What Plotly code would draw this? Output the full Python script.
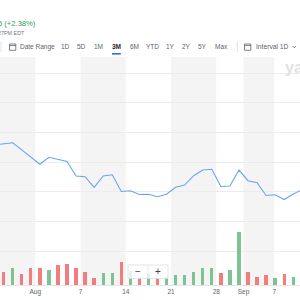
import plotly.graph_objects as go

# ---------------- data ----------------
# trading-day slots (index -1 and 33 lie just outside the visible window)
day_index = list(range(-1, 34))
close = [41.790, 41.806, 41.828, 41.707, 41.585, 41.464, 41.582, 41.548, 41.511,
         41.266, 41.254, 41.075, 41.266, 41.286, 41.004, 41.018, 40.954, 40.957,
         40.917, 40.959, 41.075, 41.114, 41.271, 41.367, 41.379, 41.089, 41.097,
         41.367, 41.187, 41.153, 40.937, 40.950, 40.869, 40.962, 41.036]

vol_index = list(range(0, 33))
volume = [1.35, 1.70, 1.13, 1.67, 1.67, 1.50, 2.00, 2.10, 1.70, 1.30, 0.72,
          1.17, 1.17, 2.30, 1.42, 0.72, 1.07, 0.75, 0.85, 1.05, 1.00, 1.35,
          1.67, 1.67, 1.18, 1.50, 5.27, 1.27, 0.80, 0.97, 0.72, 1.15, 0.77]
vol_up = [0, 1, 0, 0, 0, 1, 0, 0, 0, 0, 0, 1, 1, 0, 1, 0, 1, 0, 1, 1, 1, 1,
          1, 1, 0, 1, 1, 0, 0, 0, 1, 0, 1]

tick_pos = [3.5, 8.5, 13.5, 18.5, 23.5, 26.5, 29.9]
tick_text = ["Aug", "7", "14", "21", "28", "Sep", "7"]
grid_levels = [40.0, 40.5, 41.0, 41.5, 42.0, 42.5, 43.0]

range_labels = ["Date Range", "1D", "5D", "1M", "3M", "6M", "YTD", "1Y", "2Y", "5Y", "Max"]
selected_range = "3M"
interval_label = "Interval 1D"
change_text = "5 (+2.38%)"
time_text = "27PM EDT"

# ---------------- styling ----------------
W, H = 300, 300
BOTTOM = 15
PAPER_H = H - BOTTOM  # paper spans pixel rows 0..285
GREEN = "#7cc593"
RED = "#f27d7d"
FONT = "Liberation Sans"


def px(xp):
    return xp / W


def py(yp):
    return (PAPER_H - yp) / PAPER_H


fig = go.Figure()
fig.add_trace(go.Bar(
    x=vol_index, y=volume, width=0.37, yaxis="y2",
    marker=dict(color=[GREEN if u else RED for u in vol_up], line=dict(width=0)),
    hoverinfo="skip"))
fig.add_trace(go.Scatter(
    x=day_index, y=close, mode="lines", yaxis="y",
    line=dict(color="#6aa3f5", width=1.1), hoverinfo="skip"))

shapes = []
# alternating weekly bands
band_edges = [(-2, tick_pos[0]), (tick_pos[1], tick_pos[2]),
              (tick_pos[3], tick_pos[4]), (tick_pos[5], tick_pos[6])]
for a, b in band_edges:
    shapes.append(dict(type="rect", xref="x", yref="y domain", x0=a, x1=b, y0=0, y1=1,
                       fillcolor="#f4f4f4", line=dict(width=0), layer="below"))

# toolbar decorations (pixel positions)
def rect(x0, y0, x1, y1, **kw):
    d = dict(type="rect", xref="paper", yref="paper", x0=px(x0), x1=px(x1),
             y0=py(y1), y1=py(y0))
    d.update(kw)
    return d


def line(x0, y0, x1, y1, color, width):
    return dict(type="line", xref="paper", yref="paper", x0=px(x0), x1=px(x1),
                y0=py(y0), y1=py(y1), line=dict(color=color, width=width))

for cx in (9.5, 244.5):
    shapes.append(rect(cx, 44.0, cx + 6.3, 50.3, line=dict(color="#5b636a", width=0.8),
                       fillcolor="rgba(0,0,0,0)"))
    shapes.append(line(cx, 45.6, cx + 6.3, 45.6, "#5b636a", 0.8))
shapes.append(line(112.0, 53.8, 120.8, 53.8, "#3b63e6", 1.6))
shapes.append(line(237.3, 41.7, 237.3, 51.7, "#e2e2e2", 1))
shapes.append(line(1.0, 41.7, 1.0, 51.7, "#e2e2e2", 1))
shapes.append(dict(type="path", xref="paper", yref="paper",
                   path=f"M {px(292.8)},{py(46.2)} L {px(294.3)},{py(47.7)} L {px(295.8)},{py(46.2)}",
                   line=dict(color="#5b636a", width=0.8)))
# zoom control box
shapes.append(rect(128, 265, 168, 278.5, fillcolor="rgba(255,255,255,0.78)",
                   line=dict(color="#dedede", width=0.8), layer="above"))
shapes.append(line(148, 265, 148, 278.5, "#e4e4e4", 0.8))

ann = []


def text(x, y, s, size, color, anchor="center", bold=False, family=FONT):
    ann.append(dict(x=px(x), y=py(y), xref="paper", yref="paper", text=s,
                    showarrow=False, xanchor=anchor, yanchor="middle",
                    font=dict(size=size, color=color, family=family,
                              weight="bold" if bold else "normal")))

text(37.5, 23.4, change_text, 7.6, "#2f9e58", anchor="right")
text(26.8, 33.0, time_text, 5.4, "#6e767d", anchor="right")

btn_centers = [37.0, 65.3, 81.7, 98.7, 116.2, 134.0, 152.2, 171.0, 186.7, 202.5, 221.3]
for lbl, cx in zip(range_labels, btn_centers):
    sel = lbl == selected_range
    text(cx, 47.0, lbl, 6.5, "#232a31" if sel else "#5b636a", bold=sel)
text(254.3, 47.0, interval_label, 6.7, "#5b636a", anchor="left")

# watermark
text(282.7, 67.5, "yahoo!", 16, "#e2e2e2", anchor="left", bold=True)
# zoom buttons
text(138, 271.5, "−", 10, "#3c4248")
text(158.3, 271.5, "+", 10, "#3c4248")

fig.update_layout(
    width=W, height=H,
    margin=dict(l=0, r=0, t=0, b=BOTTOM, pad=0),
    paper_bgcolor="white", plot_bgcolor="white",
    showlegend=False, bargap=0,
    shapes=shapes, annotations=ann,
    xaxis=dict(domain=[0, 1], range=[-0.403, 32.746], tickvals=tick_pos, ticktext=tick_text,
               tickfont=dict(size=6.5, color="#5b636a", family=FONT), ticks="",
               showgrid=False, zeroline=False, showline=True, linecolor="#e6e6e6",
               linewidth=1, fixedrange=True),
    yaxis=dict(domain=[0, 1 - 57 / PAPER_H], range=[39.426, 43.275], tickvals=grid_levels,
               showticklabels=False, gridcolor="#ececec", gridwidth=1, zeroline=False,
               showline=False, ticks=""),
    yaxis2=dict(overlaying="y", range=[0, 22.8], visible=False, showgrid=False),
)

fig.write_html("out.html")
